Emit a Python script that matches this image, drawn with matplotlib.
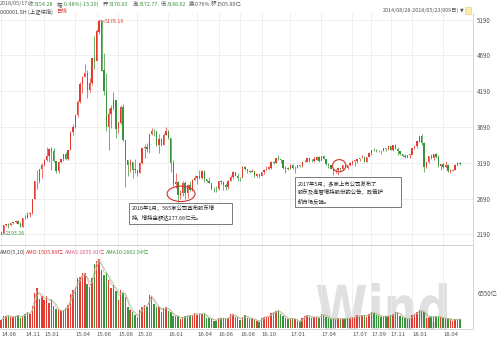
import numpy as np
import pandas as pd
import matplotlib
matplotlib.use("Agg")
import matplotlib.pyplot as plt
from matplotlib.patches import Ellipse, Rectangle, PathPatch
from matplotlib.textpath import TextPath
from matplotlib.font_manager import FontProperties
from matplotlib.transforms import Affine2D, IdentityTransform

plt.rcParams['font.family'] = ['Noto Sans CJK SC', 'DejaVu Sans']

# weekly bars of 000001.SH, 2014/08/28 - 2018/05/23
first_open = 2195
closes = [
    2217, 2326, 2332, 2329, 2347, 2364, 2374, 2341, 2302, 2420, 2418, 2478, 2487, 2683, 2938, 2938, 3108, 3157, 3234,
    3285, 3376, 3351, 3210, 3076, 3203, 3246, 3310, 3241, 3372, 3617, 3691, 3863, 4034, 4287, 4393, 4441, 4205, 4308,
    4657, 4612, 5023, 5166, 4478, 4193, 3687, 3877, 3957, 4070, 3664, 3744, 3965, 3508, 3232, 3160, 3200, 3097, 3092,
    3053, 3183, 3391, 3412, 3383, 3590, 3632, 3630, 3436, 3524, 3435, 3578, 3628, 3539,
    3186, 2901, 2916, 2737, 2763, 2907, 2767, 2874, 2810, 2955, 2979, 3009, 2985, 3078, 2960, 2938, 2913, 2827, 2825,
    2822, 2938, 2927, 2885, 2854, 2932, 2988, 3054, 3012, 2979, 2976, 3125, 3108, 3070, 3067, 3078, 3002, 3033, 3004,
    3063, 3090, 3104, 3125, 3196, 3192, 3261, 3243, 3232, 3123, 3110, 3104,
    3154, 3112, 3123, 3159, 3140, 3196, 3202, 3253, 3218, 3212, 3237, 3269, 3223, 3287, 3247, 3173, 3155, 3103, 3083,
    3091, 3110, 3106, 3158, 3123, 3158, 3192, 3218, 3222, 3238, 3254, 3262, 3208, 3268, 3332, 3367, 3365, 3353, 3352,
    3349, 3391, 3378, 3417, 3372, 3433, 3382, 3353, 3317, 3289, 3266, 3297, 3307,
    3392, 3429, 3488, 3558, 3462, 3129, 3199, 3290, 3254, 3307, 3269, 3153, 3169, 3131, 3159, 3071, 3082, 3091, 3163,
    3193, 3169,
]
highs = [
    2219, 2327, 2339, 2346, 2353, 2366, 2391, 2395, 2369, 2424, 2458, 2503, 2500, 2691, 2940, 3091, 3109, 3190, 3239,
    3404, 3400, 3406, 3400, 3210, 3210, 3250, 3312, 3337, 3372, 3633, 3735, 3864, 4069, 4318, 4400, 4572, 4490, 4376,
    4658, 4958, 5052, 5178, 5176, 4720, 4450, 3960, 3993, 4184, 4052, 3769, 3994, 4006, 3249, 3230, 3243, 3186, 3237,
    3095, 3200, 3395, 3457, 3460, 3597, 3678, 3661, 3640, 3594, 3538, 3610, 3684, 3655,
    3539, 3230, 3050, 2940, 2810, 2936, 2933, 2892, 2933, 2960, 3021, 3012, 3090, 3096, 3088, 2970, 2998, 2914, 2850,
    2860, 2940, 2946, 2935, 2910, 2944, 3018, 3070, 3060, 3054, 2988, 3141, 3140, 3110, 3095, 3101, 3067, 3050, 3034,
    3068, 3104, 3140, 3145, 3211, 3219, 3263, 3301, 3249, 3233, 3150, 3130,
    3172, 3174, 3140, 3163, 3165, 3200, 3230, 3261, 3250, 3243, 3284, 3280, 3280, 3287, 3295, 3250, 3185, 3160, 3108,
    3110, 3120, 3120, 3160, 3160, 3165, 3195, 3220, 3230, 3248, 3256, 3305, 3290, 3270, 3335, 3370, 3392, 3383, 3372,
    3366, 3394, 3399, 3418, 3420, 3436, 3450, 3410, 3348, 3320, 3310, 3306, 3308,
    3392, 3430, 3490, 3565, 3587, 3480, 3205, 3290, 3310, 3308, 3330, 3296, 3176, 3185, 3220, 3170, 3110, 3101, 3175,
    3196, 3205,
]
lows = [
    2193, 2212, 2304, 2285, 2310, 2338, 2357, 2336, 2293, 2296, 2400, 2415, 2440, 2480, 2705, 2826, 2905, 2982, 3145,
    3215, 3198, 3095, 3200, 3049, 3050, 3190, 3210, 3223, 3230, 3370, 3580, 3675, 3830, 4030, 4160, 4390, 4100, 4185,
    4280, 4500, 4650, 4984, 4470, 4140, 3630, 3373, 3675, 3930, 3537, 3601, 3730, 3492, 2850, 3012, 3058, 2983, 3045,
    3012, 3120, 3170, 3253, 3340, 3325, 3580, 3560, 3430, 3327, 3420, 3480, 3580, 3525,
    3056, 2867, 2844, 2638, 2682, 2730, 2687, 2693, 2797, 2790, 2950, 2900, 2968, 2970, 2920, 2918, 2910, 2806, 2781,
    2780, 2815, 2900, 2807, 2808, 2830, 2930, 2970, 3003, 2940, 2940, 2975, 3090, 3050, 3052, 3060, 2999, 2990, 2980,
    3030, 3040, 3085, 3093, 3105, 3180, 3190, 3235, 3190, 3100, 3050, 3090,
    3100, 3110, 3044, 3125, 3138, 3135, 3195, 3200, 3200, 3204, 3203, 3225, 3200, 3223, 3240, 3162, 3112, 3100, 3016,
    3050, 3022, 3080, 3090, 3120, 3110, 3140, 3160, 3150, 3187, 3220, 3255, 3205, 3210, 3270, 3300, 3355, 3345, 3340,
    3318, 3360, 3360, 3366, 3370, 3360, 3380, 3300, 3300, 3265, 3260, 3255, 3262,
    3315, 3385, 3400, 3480, 3440, 3063, 3120, 3190, 3240, 3230, 3260, 3135, 3091, 3120, 3120, 3060, 3041, 3070, 3095,
    3150, 3162,
]
# average daily turnover, 亿元
amounts = [
    1500, 2200, 2300, 2300, 2100, 2000, 2300, 2400, 1900, 2300, 2700, 2900, 2600, 4100, 6500, 7500, 5500, 6000, 5200,
    6000, 4600, 5500, 4200, 3600, 3300, 3100, 3300, 3800, 4300, 6300, 7200, 7500, 9300, 9500, 10200, 10300, 8300, 7600,
    9400, 12000, 12500, 13000, 10800, 10000, 10400, 9000, 7500, 8000, 7000, 5300, 7200, 6500, 5800, 4000, 3300, 3000,
    2500, 2000, 3400, 4000, 4300, 3900, 6200, 5900, 4400, 4000, 3900, 3000, 3700, 4000, 3200,
    2900, 2300, 2200, 2200, 1700, 2000, 2300, 2300, 2300, 2500, 2800, 2500, 2600, 2700, 2800, 1800, 1900, 1700, 1400,
    1400, 1800, 1900, 1800, 1700, 1900, 2600, 2600, 2000, 2000, 1500, 2100, 2500, 1800, 1700, 1800, 1500, 1300, 1200,
    1900, 2100, 2100, 2200, 2800, 2900, 3200, 3300, 2600, 2300, 1900, 1600,
    1800, 1800, 1600, 1300, 1100, 1900, 2200, 2500, 2100, 1900, 2100, 2100, 1900, 2600, 2500, 2100, 1800, 1600, 1800,
    1600, 1800, 1700, 1700, 1800, 1900, 1800, 2000, 2100, 2400, 2100, 2400, 2400, 2100, 2700, 3000, 2800, 2500, 2300,
    2000, 2300, 2200, 2200, 2400, 2600, 2900, 3000, 2200, 2000, 1800, 1700, 1700,
    2500, 2600, 3000, 3300, 3200, 3000, 1900, 2000, 2200, 2000, 2200, 2000, 2100, 1800, 1700, 1800, 1600, 1400, 1600,
    1700, 1600,
]
holiday_weeks = ['2016-02-12', '2016-10-07', '2017-10-06']
tick_labels = ['14.08', '14.11', '15.01', '15.04', '15.06', '15.08', '15.10', '16.01', '16.04', '16.06',
               '16.08', '16.10', '17.01', '17.04', '17.07', '17.09', '17.11', '18.01', '18.04']
price_ticks = [2190, 2690, 3190, 3690, 4190, 4690, 5190]

UP = '#e23b30'
DOWN = '#36943a'
GRID = '#ececec'

weeks = pd.date_range('2014-08-29', '2018-05-25', freq='W-FRI').drop(pd.to_datetime(holiday_weeks))
x = np.arange(len(closes))
c = np.array(closes, float)
o = np.r_[first_open, c[:-1]]
h = np.maximum(np.array(highs, float), np.maximum(o, c))
l = np.minimum(np.array(lows, float), np.minimum(o, c))
up = c >= o
colors = np.where(up, UP, DOWN)

tick_pos = [int(np.argmax(weeks >= pd.Timestamp('20' + t[:2] + '-' + t[3:] + '-01'))) for t in tick_labels]

fig = plt.figure(figsize=(5, 3.42), dpi=100)


def px(xp, yp):
    return xp / 500, 1 - yp / 342


ax = fig.add_axes([0.0, 1 - 245 / 342, 473 / 500, 232 / 342])
axv = fig.add_axes([0.0, 1 - 329 / 342, 473 / 500, 84 / 342], sharex=ax)

# watermark, stretched to the narrow logo shape (display pixels), drawn under the axes
wm = TextPath((0, 0), 'Wind', size=1, prop=FontProperties(family='DejaVu Sans', weight='bold'))
ext = wm.get_extents()
wm_tr = Affine2D().translate(-ext.x0, -ext.y0).scale(130 / ext.width, 47 / ext.height).translate(317, 342 - 330)
fig.add_artist(PathPatch(wm, transform=wm_tr + IdentityTransform(), fc='#e0e0e0', ec='none', zorder=-1))
axv.patch.set_alpha(0)

# price candles
ax.vlines(x, l, h, colors=colors, lw=0.5, zorder=3)
ax.bar(x, np.abs(c - o) + 2, bottom=np.minimum(o, c) - 1, width=0.55, color=colors, lw=0, zorder=4)
ax.set_ylim(2043, 5281)
ax.set_xlim(-0.5, 197.5)
ax.set_yticks(price_ticks)
ax.yaxis.tick_right()
ax.tick_params(axis='y', length=0, labelsize=4.5, labelcolor='#555555', pad=3)
ax.tick_params(axis='x', length=0, labelbottom=False)
ax.grid(True, color=GRID, lw=0.6)
ax.set_axisbelow(True)
for s in ['left', 'top']:
    ax.spines[s].set_visible(False)
for s in ['right', 'bottom']:
    ax.spines[s].set_color('#d0d0d0')
    ax.spines[s].set_linewidth(0.6)

# extreme labels
i_max = int(np.argmax(h))
ax.plot([i_max, i_max + 2.2], [h[i_max], h[i_max] - 15], color=UP, lw=0.5)
ax.text(i_max + 2.5, h[i_max] - 15, '%.2f' % 5178.19, color=UP, fontsize=3.8, va='center')
ax.plot([0, 1.8], [l[0], l[0] + 5], color=DOWN, lw=0.5)
ax.text(2, l[0] + 5, '%.2f' % 2193.26, color=DOWN, fontsize=3.8, va='center')

# circled events
ax.add_patch(Ellipse((75.3, 2757), 11.7, 215, fill=False, ec='#d8302c', lw=0.8, zorder=6))
ax.add_patch(Ellipse((141.5, 3150), 5.6, 170, fill=False, ec='#d8302c', lw=0.8, zorder=6))

# volume
axv.bar(x, amounts, width=0.6, color=colors, lw=0, zorder=3)
am = pd.Series(amounts, dtype=float)
axv.plot(x, am.rolling(2, min_periods=1).mean(), color='#e79aab', lw=0.5, zorder=4)
axv.plot(x, am.rolling(3, min_periods=1).mean(), color='#9ccf8f', lw=0.5, zorder=4)
axv.set_ylim(-190, 15530)
axv.set_yticks([6550])
axv.set_yticklabels(['6550亿'])
axv.yaxis.tick_right()
axv.tick_params(axis='y', length=0, labelsize=4.5, labelcolor='#555555', pad=3)
axv.set_xticks(tick_pos)
axv.set_xticklabels(tick_labels, ha='left')
axv.tick_params(axis='x', length=0, labelsize=4.3, labelcolor='#555555', pad=2)
axv.grid(True, axis='x', color=GRID, lw=0.6)
axv.set_axisbelow(True)
for s in ['left']:
    axv.spines[s].set_visible(False)
for s in ['right', 'bottom', 'top']:
    axv.spines[s].set_color('#d0d0d0')
    axv.spines[s].set_linewidth(0.6)

# volume legend
fs = 3.9
for xp, txt, col in [(0, 'AMO(5,10)', '#444444'), (26, 'AMO:1505.89亿', '#d8302c'),
                     (65, 'AMA5:1655.91亿', '#d9557a'), (106, 'AMA10:1662.54亿', '#3a9a3a')]:
    fig.text(*px(xp, 252), txt, fontsize=fs, color=col, va='center')

# header
for xp, txt, col in [(0, '2018/05/17', '#555555'), (28, '收', '#555555'), (34, '3154.28', DOWN),
                     (57, '幅', '#555555'), (63, '-0.48%(-15.29)', DOWN), (103, '开', '#555555'),
                     (109, '3170.03', DOWN), (133, '高', '#555555'), (139, '3172.77', DOWN),
                     (161, '低', '#555555'), (167, '3148.62', DOWN), (189, '换', '#555555'),
                     (195, '0.76%', '#555555'), (211, '额', '#555555'), (217, '1505.89亿', '#555555')]:
    fig.text(*px(xp, 4), txt, fontsize=fs, color=col, va='center')
fig.text(*px(0, 11.5), '000001.SH (上证综指)', fontsize=fs, color='#444444', va='center')
fig.text(*px(56, 11.5), '日线', fontsize=fs, color='#d8302c', va='center')
fig.text(*px(383, 10), '2014/08/28-2018/05/23(909日)', fontsize=fs, color='#555555', va='center')
fig.text(*px(460, 10), '▼', fontsize=3.5, color='#555555', va='center', family='DejaVu Sans')
fig.add_artist(Rectangle(px(465, 14), 6 / 500, 7 / 342, transform=fig.transFigure,
                         fc='#fbe9a6', ec='#e8c860', lw=0.4))

# text boxes
fig.add_artist(Rectangle(px(129, 224), 103 / 500, 21 / 342, transform=fig.transFigure,
                         fc='white', ec='#666666', lw=0.6, zorder=10))
fig.text(*px(132, 208), '2016年1月，565家公司宣布股东增', fontsize=fs, color='#222222', va='center', zorder=11)
fig.text(*px(132, 217), '持，增持金额达277.66亿元。', fontsize=fs, color='#222222', va='center', zorder=11)
fig.add_artist(Rectangle(px(295, 207), 106 / 500, 30 / 342, transform=fig.transFigure,
                         fc='white', ec='#666666', lw=0.6, zorder=10))
fig.text(*px(298, 183), '2017年5月，多家上市公司发布了', fontsize=fs, color='#222222', va='center', zorder=11)
fig.text(*px(298, 192), '股东及高管增持股份的公告，政策护', fontsize=fs, color='#222222', va='center', zorder=11)
fig.text(*px(298, 201), '航市场反弹。', fontsize=fs, color='#222222', va='center', zorder=11)

fig.savefig('out.png', dpi=100)
